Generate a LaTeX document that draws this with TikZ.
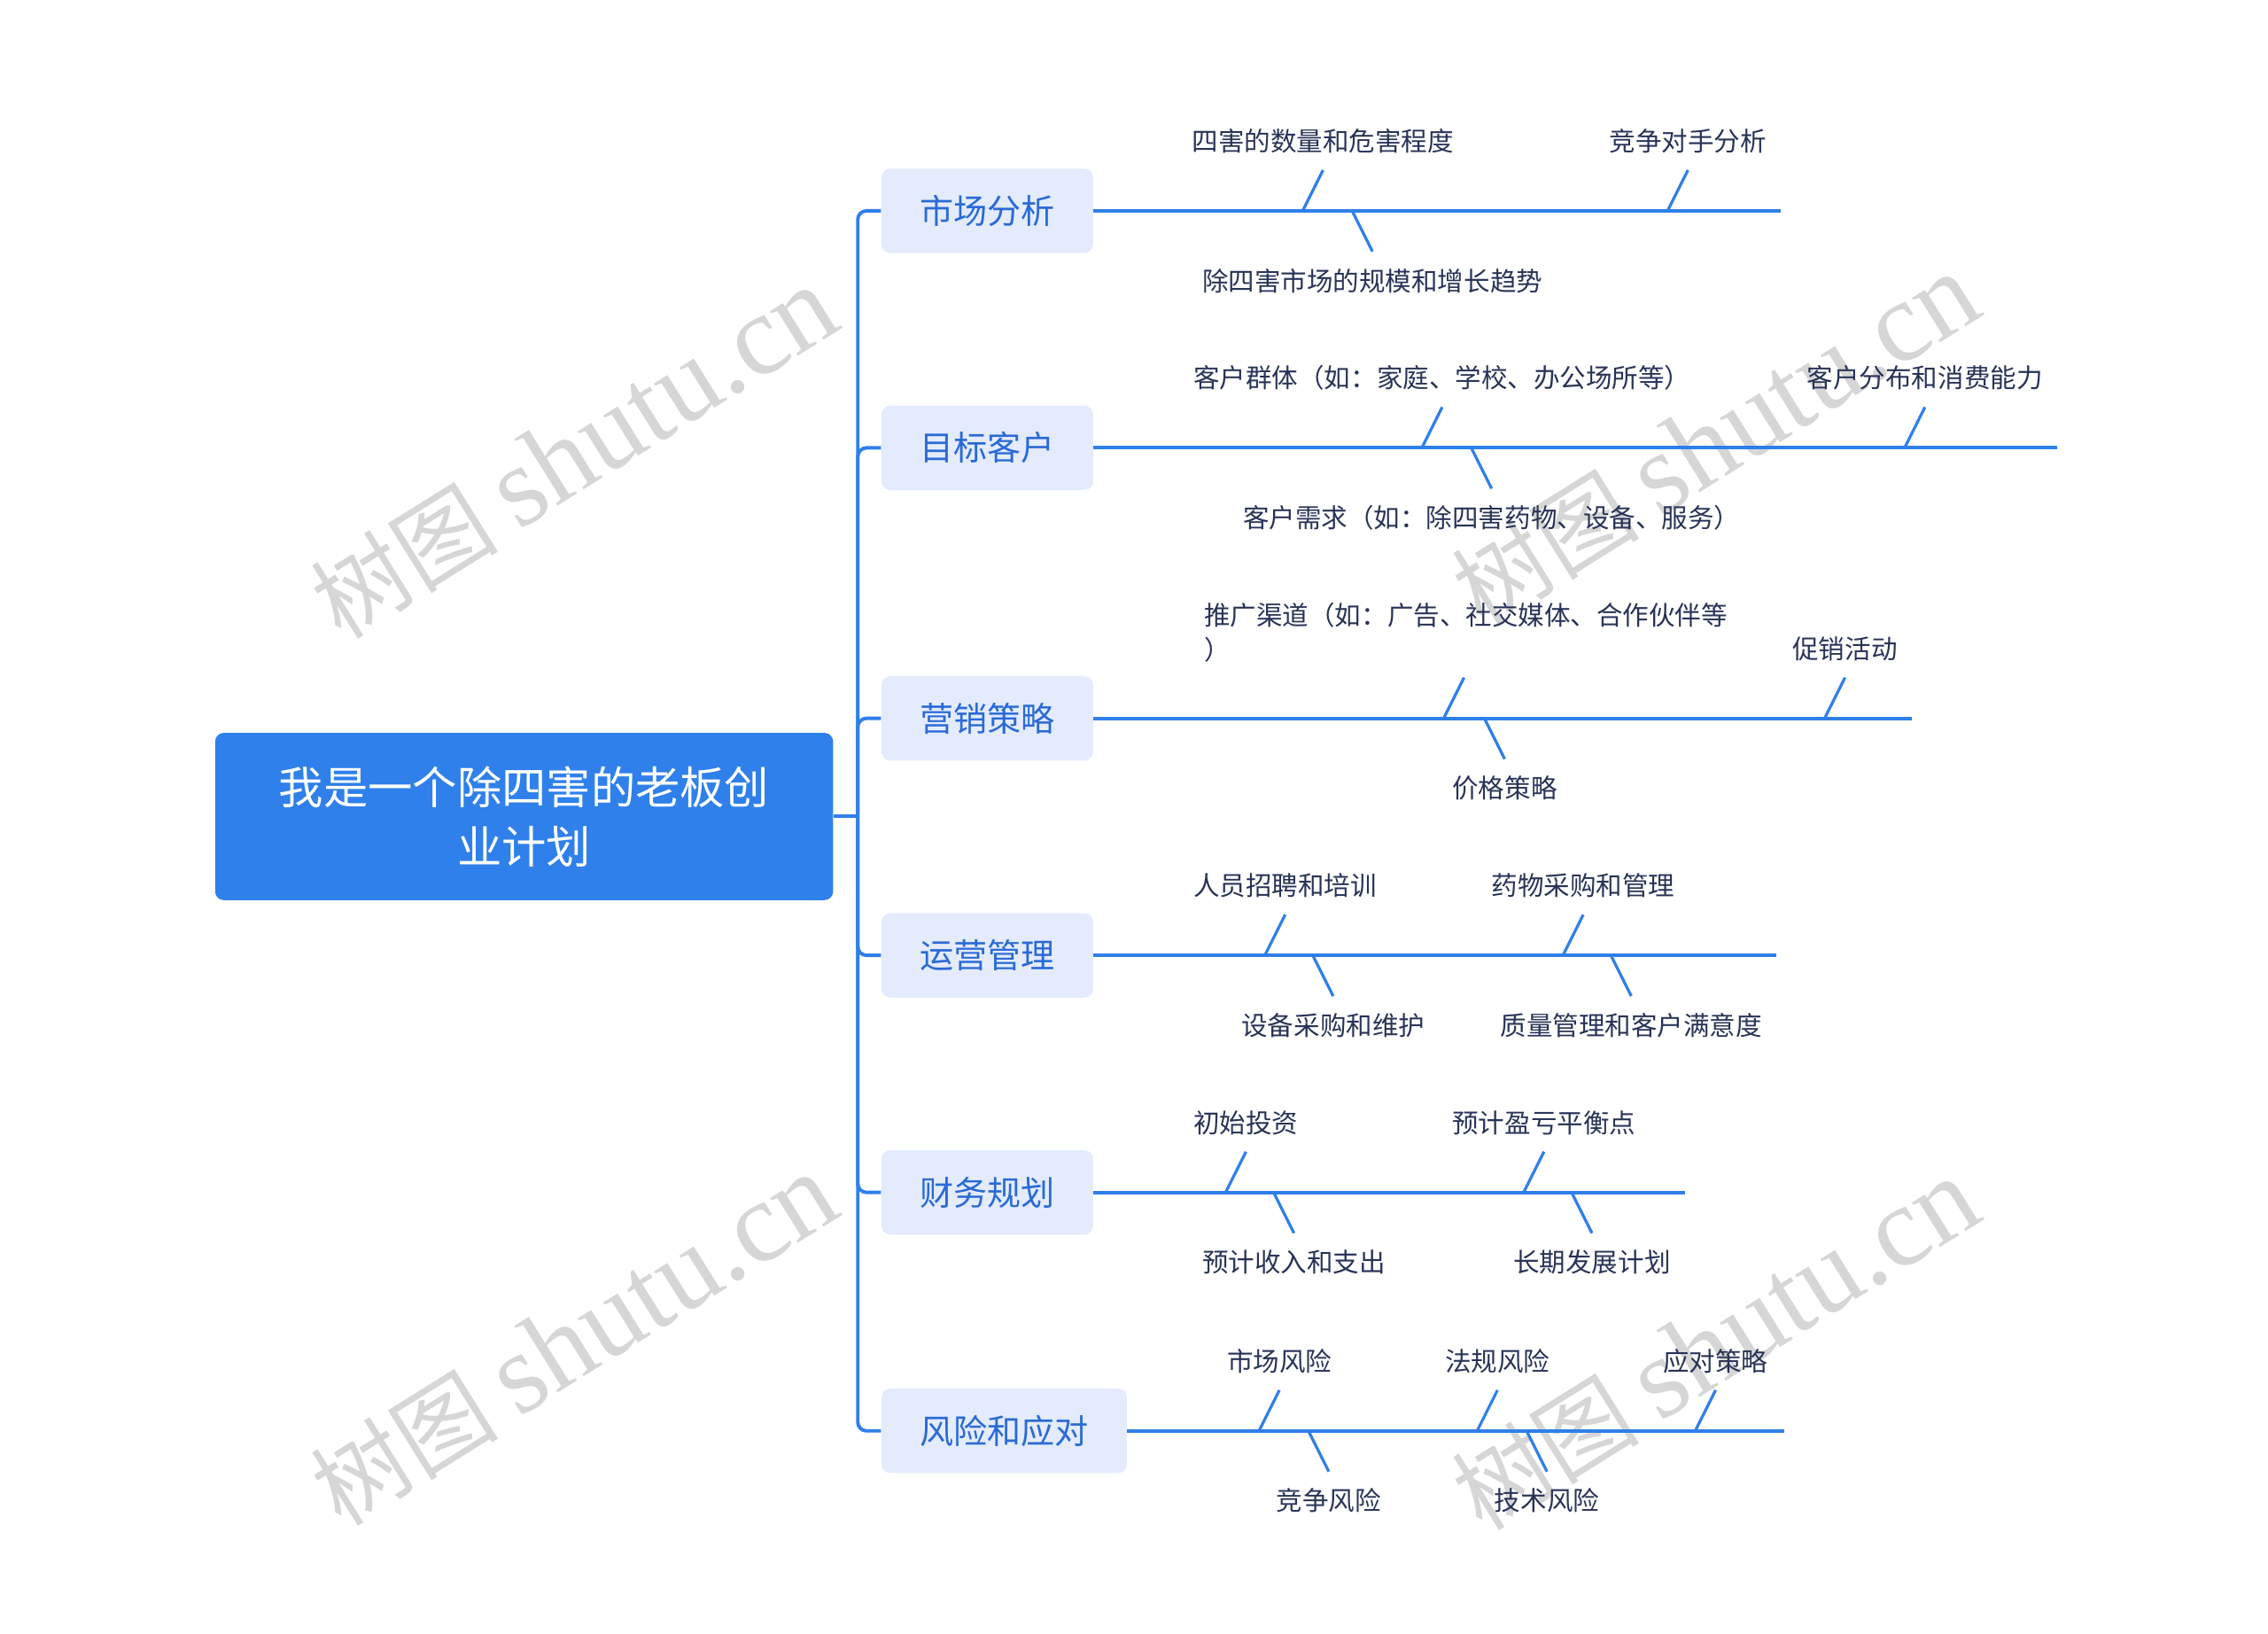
\documentclass[tikz,border=0pt]{standalone}
\usepackage{fontspec}
\setmainfont{Noto Sans CJK SC}
\newfontfamily\wmlatin{Liberation Serif}
\usetikzlibrary{calc}
\definecolor{lineblue}{HTML}{2F7FEA}
\definecolor{rootblue}{HTML}{2F80EB}
\definecolor{branchfill}{HTML}{E3EBFD}
\definecolor{branchtext}{HTML}{2A6AD6}
\definecolor{leaftext}{HTML}{283357}
\definecolor{wmgray}{RGB}{214,214,214}
\newcommand\upleaf[4]{%
  \coordinate (#1b) at (#2,#3);
  \coordinate (#1t) at ($(#1b)+(14,-28)$);
  \node[leaf] (#1) at ($(#1t)+(0,-20)$) {#4};
  \draw[tickline] (#1b) -- (#1t);}
\newcommand\downleaf[4]{%
  \coordinate (#1b) at (#2,#3);
  \coordinate (#1t) at ($(#1b)+(14,28)$);
  \node[leaf] (#1) at ($(#1t)+(0,20)$) {#4};
  \draw[tickline] (#1b) -- (#1t);}
\newcommand\wmtext{{\fontsize{46pt}{55pt}\selectfont 树图}\hspace{10pt}{\wmlatin\fontsize{56pt}{64pt}\selectfont shutu.cn}}
\begin{document}
\begin{tikzpicture}[x=0.025cm,y=-0.025cm,
  rootbox/.style={fill=rootblue, rounded corners=0.15cm, minimum width=10.625cm, minimum height=2.875cm, inner sep=0, align=center, text=white, font=\fontsize{21.8pt}{29pt}\selectfont},
  branchbox/.style={fill=branchfill, rounded corners=0.15cm, minimum height=1.45cm, inner xsep=0.66cm, inner ysep=0, anchor=west, text=branchtext, font=\fontsize{16.5pt}{20pt}\selectfont},
  leaf/.style={inner sep=0, text=leaftext, font=\fontsize{12.8pt}{17pt}\selectfont},
  trunkline/.style={draw=lineblue, line width=1.7pt, rounded corners=0.15cm},
  spine/.style={draw=lineblue, line width=1.7pt},
  tickline/.style={draw=lineblue, line width=1.4pt},
  watermark/.style={text=wmgray, rotate=32, inner sep=0}
]
\useasboundingbox (0,0) rectangle (1560,1123.1);

% watermarks (behind everything)
\node[watermark] (wm1) at (395,312) {\wmtext};
\node[watermark] (wm2) at (395,922) {\wmtext};
\node[watermark] (wm3) at (1180,303) {\wmtext};
\node[watermark] (wm4) at (1180,925) {\wmtext};

% root
\node[rootbox] (root) at (360.5,561.5) {我是一个除四害的老板创\\业计划};

% branches
\node[branchbox] (b1) at (606,145) {市场分析};
\node[branchbox] (b2) at (606,308) {目标客户};
\node[branchbox] (b3) at (606,494) {营销策略};
\node[branchbox] (b4) at (606,657) {运营管理};
\node[branchbox] (b5) at (606,820) {财务规划};
\node[branchbox] (b6) at (606,984) {风险和应对};

% trunk
\coordinate (tr) at (590,561.5);
\draw[spine] (root.east) -- (tr);
\foreach \b in {b1,b2,b3,b4,b5,b6} \draw[trunkline] (tr) |- (\b.west);

% spines
\coordinate (e1) at (1225,145);
\coordinate (e2) at (1415,308);
\coordinate (e3) at (1315,494);
\coordinate (e4) at (1222,657);
\coordinate (e5) at (1159,820);
\coordinate (e6) at (1227,984);
\draw[spine] (b1.east) -- (e1);
\draw[spine] (b2.east) -- (e2);
\draw[spine] (b3.east) -- (e3);
\draw[spine] (b4.east) -- (e4);
\draw[spine] (b5.east) -- (e5);
\draw[spine] (b6.east) -- (e6);

% 市场分析
\upleaf{a1}{896}{145}{四害的数量和危害程度}
\downleaf{a2}{930}{145}{除四害市场的规模和增长趋势}
\upleaf{a3}{1147}{145}{竞争对手分析}

% 目标客户
\upleaf{k1}{978}{308}{客户群体（如：家庭、学校、办公场所等）}
\downleaf{k2}{1012}{308}{客户需求（如：除四害药物、设备、服务）}
\upleaf{k3}{1310}{308}{客户分布和消费能力}

% 营销策略
\coordinate (c1b) at (993,494);
\coordinate (c1t) at ($(c1b)+(14,-28)$);
\node[leaf, anchor=north west, align=left] (c1) at (828,414) {推广渠道（如：广告、社交媒体、合作伙伴等\\）};
\draw[tickline] (c1b) -- (c1t);
\downleaf{c2}{1021}{494}{价格策略}
\upleaf{c3}{1255}{494}{促销活动}

% 运营管理
\upleaf{o1}{870}{657}{人员招聘和培训}
\downleaf{o2}{903}{657}{设备采购和维护}
\upleaf{o3}{1075}{657}{药物采购和管理}
\downleaf{o4}{1108}{657}{质量管理和客户满意度}

% 财务规划
\upleaf{f1}{843}{820}{初始投资}
\downleaf{f2}{876}{820}{预计收入和支出}
\upleaf{f3}{1048}{820}{预计盈亏平衡点}
\downleaf{f4}{1081}{820}{长期发展计划}

% 风险和应对
\upleaf{r1}{866}{984}{市场风险}
\downleaf{r2}{900}{984}{竞争风险}
\upleaf{r3}{1016}{984}{法规风险}
\downleaf{r4}{1050}{984}{技术风险}
\upleaf{r5}{1166}{984}{应对策略}
\end{tikzpicture}
\end{document}
